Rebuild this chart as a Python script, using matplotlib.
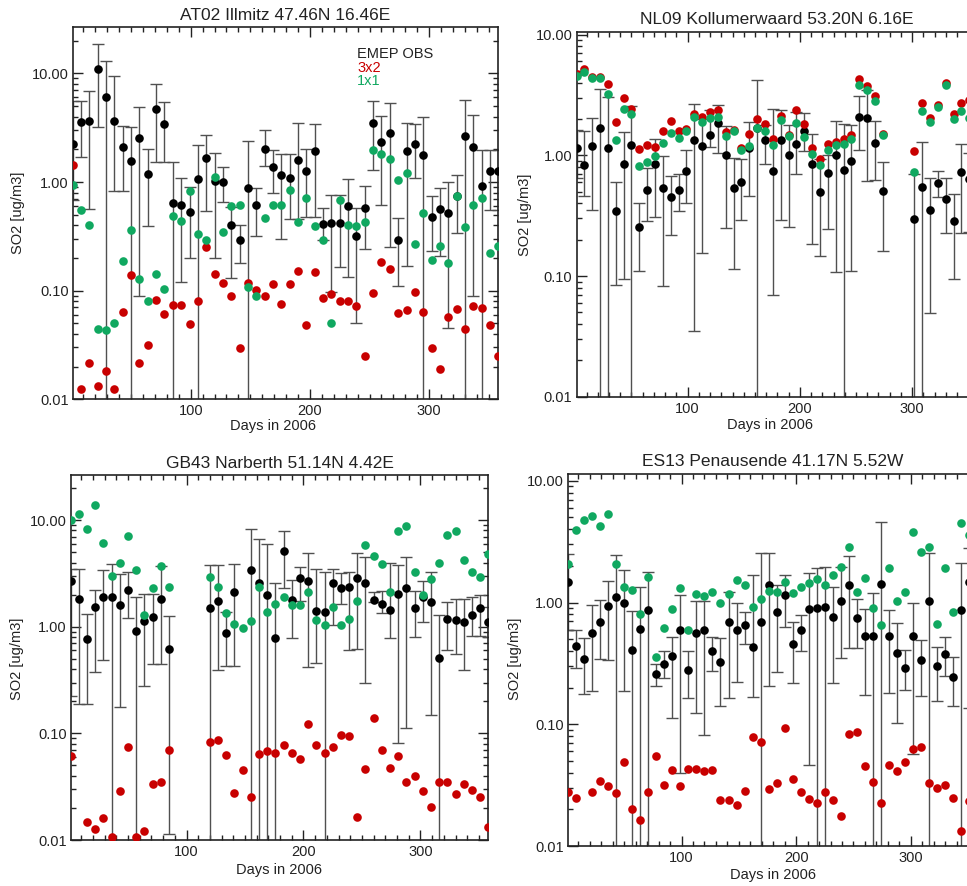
import numpy as np
import matplotlib
matplotlib.use("Agg")
import matplotlib.pyplot as plt
from matplotlib.ticker import MultipleLocator, LogLocator, FormatStrFormatter, NullFormatter

plt.rcParams['font.family'] = ['Liberation Sans', 'DejaVu Sans']

# weekly samples through 2006
days = np.arange(52) * 7 + 1

# AT02 Illmitz
at_obs = [2.22, 3.57, 3.65, 10.9, 6.1, 3.67, 2.09, 1.57, 2.54, 1.19, 4.74, 3.44, 0.64, 0.62, 0.53, 1.06, 1.68, 1.03,
          1.01, 0.40, 0.29, 0.88, 0.61, 2.01, 1.37, 1.15, 1.09, 1.58, 1.26, 1.92, 0.41, 0.42, 0.42, 0.60, 0.32, 0.58,
          3.49, 2.32, 2.83, 0.29, 1.93, 2.24, 1.79, 0.48, 0.56, 0.52, 0.74, 2.64, 2.10, 0.92, 1.26, 1.26]
at_hi = [5.6, 5.6, 6.9, 18.8, 12.9, 9.4, 3.25, 3.2, 4.9, 2.0, 8.0, 5.45, 1.53, 1.09, 0.9, 2.2, 2.7, 1.86, 1.37, 0.59,
         0.40, 2.4, 0.88, 3.0, 1.96, 1.8, 1.8, 3.5, 2.0, 3.4, 0.58, 0.76, 0.76, 1.06, 0.58, 0.92, 5.6, 4.05, 5.3, 0.47,
         3.5, 3.45, 3.97, 0.75, 0.88, 1.0, 1.15, 5.7, 4.1, 1.96, 1.96, 1.96]
at_lo = [0.68, 1.7, 0.56, 3.2, None, 0.83, 0.83, None, 0.09, 0.39, 1.54, 1.54, None, 0.12, 0.2, None, 0.54, 0.2, 0.66,
         0.13, 0.18, None, 0.32, 1.4, 0.8, 0.3, 0.46, 0.46, 0.48, 0.48, 0.29, 0.097, 0.165, 0.135, 0.05, 0.24, 1.28,
         0.61, 0.25, 0.11, 0.17, 1.1, None, 0.23, 0.21, 0.045, 0.34, None, 0.09, None, 0.556, 0.556]
at_3x2 = [1.44, 0.0125, 0.0215, 0.0132, 0.0184, 0.0125, 0.0635, 0.138, 0.0216, 0.0313, 0.0824, 0.0613, 0.074, 0.074,
          0.0489, 0.081, 0.252, 0.143, 0.117, 0.09, 0.0296, 0.117, 0.102, 0.09, 0.115, 0.076, 0.114, 0.153, 0.0487,
          0.148, 0.086, 0.094, 0.081, 0.081, 0.0716, 0.0253, 0.0956, 0.183, 0.157, 0.0625, 0.0667, 0.0962, 0.0635,
          0.0297, 0.019, 0.057, 0.068, 0.0446, 0.073, 0.069, 0.0487, 0.0253]
at_1x1 = [0.945, 0.548, 0.399, 0.044, 0.0433, 0.0502, 0.186, 0.364, 0.129, 0.081, 0.141, 0.103, 0.483, 0.437, 0.826,
          0.33, 0.29, 1.11, 0.346, 0.60, 0.61, 0.108, 0.09, 0.47, 0.61, 0.62, 0.85, 0.43, 0.71, 0.39, 0.29, 0.050,
          0.69, 0.40, 0.39, 0.43, 1.96, 1.82, 1.64, 1.04, 1.21, 0.267, 0.52, 0.19, 0.257, 0.181, 0.75, 0.385, 0.61,
          0.71, 0.223, 0.26]

# NL09 Kollumerwaard
nl_obs = [1.16, 0.83, 1.19, 1.69, 1.14, 0.345, 0.84, 1.21, 0.256, 0.52, 0.85, 0.54, 0.45, 0.52, 0.74, 1.33, 1.19, 1.48,
          1.85, 1.0, 0.54, 0.60, 1.16, 1.69, 1.33, 0.74, 1.35, 1.0, 1.23, 1.58, 0.84, 0.50, 0.71, 1.01, 0.76, 0.89,
          2.09, 2.04, 1.27, 0.51, None, None, None, 0.294, 0.55, 0.354, 0.59, 0.434, 0.287, 0.73, 0.64, None]
nl_hi = [1.63, 1.6, 2.04, 3.57, 3.05, 0.6, 1.56, 2.55, 0.40, 0.78, 1.37, 0.99, 0.68, 0.70, 1.1, 2.65, 2.0, 2.39, 2.6,
         1.74, 0.95, 0.94, 1.87, 4.24, 1.77, 2.4, 2.39, 1.77, 2.3, 2.24, 1.51, 0.94, 1.0, 1.91, 1.81, 1.77, 3.09, 3.5,
         1.91, 0.88, None, None, None, 0.70, 1.29, 0.65, 0.74, 0.65, 0.48, 1.23, 1.05, None]
nl_lo = [0.65, 0.46, 0.354, None, None, 0.085, 0.095, None, 0.11, 0.285, 0.31, 0.082, 0.22, 0.345, 0.40, 0.035, 0.155,
         1.17, 1.05, 0.25, 0.115, 0.29, 0.46, None, 0.85, 0.069, 0.29, 0.254, 0.7, 1.08, 0.183, 0.146, 0.246, 0.108,
         None, 0.11, 1.11, 0.61, 0.62, 0.16, None, None, None, None, None, 0.049, 0.45, 0.227, 0.095, 0.227, 0.23, None]
nl_3x2 = [4.7, 5.2, 4.47, 4.44, 3.88, 1.87, 2.99, 2.44, 1.12, 1.21, 1.17, 1.58, 1.93, 1.58, 1.64, 2.22, 2.08, 2.29, 2.36,
          1.56, 1.61, 1.15, 1.49, 1.99, 1.8, 1.37, 2.12, 1.48, 2.36, 1.81, 1.15, 0.94, 1.23, 1.29, 1.36, 1.48, 4.27,
          3.74, 3.09, 1.5, None, None, None, 1.09, 2.73, 2.05, 2.63, 3.98, 2.22, 2.72, 2.86, None]
nl_1x1 = [4.5, 4.9, 4.33, 4.39, 3.2, 1.33, 2.44, 2.2, 0.81, 0.88, 0.99, 1.27, 1.53, 1.39, 1.59, 2.08, 1.87, 2.04, 2.08,
          1.45, 1.59, 1.1, 1.19, 1.69, 1.59, 1.21, 1.95, 1.44, 1.85, 1.43, 1.03, 0.83, 1.1, 1.21, 1.23, 1.36, 3.86, 3.5,
          2.8, 1.48, None, None, None, 0.73, 2.33, 1.87, 2.49, 3.8, 1.98, 2.33, 2.05, None]

# GB43 Narberth
gb_obs = [2.7, 1.84, 0.76, 1.52, 1.92, 1.90, 1.61, 2.21, 0.91, 1.13, 1.23, 1.84, 0.62, None, None, None, None, 1.51,
          1.73, 0.87, 2.13, None, 3.4, 2.55, 1.98, 0.79, 5.16, 1.78, 2.86, 2.7, 1.41, 1.38, 2.57, 2.32, 2.37, 2.86, 2.6,
          1.8, 1.65, 1.43, 2.02, 2.3, 1.49, 1.92, 1.71, 0.51, 1.17, 1.15, 1.11, 1.30, 1.49, 1.12]
gb_hi = [3.5, 3.5, 1.33, 2.2, 3.4, 3.87, 3.1, 3.23, 1.91, 2.05, 2.05, 3.73, 1.27, None, None, None, None, 3.76, 3.8,
         1.39, 3.87, None, 8.2, 6.6, 5.96, 2.6, 7.9, 2.74, 3.6, 4.94, 3.47, 3.28, 3.47, 3.16, 3.28, 4.97, 4.53, 2.1,
         2.17, 3.92, 3.8, 4.53, 2.17, 2.7, 3.28, 1.3, 1.69, 1.84, 1.82, 1.91, 1.98, 1.52]
gb_lo = [0.225, 0.19, 0.19, 0.38, 0.49, None, 0.175, 1.2, None, 0.276, 0.45, 0.45, 0.0115, None, None, None, None, None,
         0.39, 0.43, 0.43, None, None, None, None, None, 2.29, 0.78, 1.75, 0.42, 0.46, None, 1.04, 1.63, 0.6, 0.62,
         0.3, 1.69, 1.36, 0.78, 0.081, 0.112, 0.81, 1.11, 0.149, None, 0.6, 0.555, 0.39, 0.82, 0.82, 0.8]
gb_3x2 = [0.061, None, 0.0146, 0.0127, 0.0161, 0.0106, 0.0286, 0.074, 0.0107, 0.0122, 0.0335, 0.0347, 0.0703, None, None,
          None, None, 0.0824, 0.0873, 0.063, 0.0276, 0.0453, 0.0255, 0.0636, 0.0678, 0.066, 0.078, 0.066, 0.0575,
          0.122, 0.077, 0.066, 0.075, 0.097, 0.095, 0.0166, 0.0463, 0.138, 0.0703, 0.0469, 0.062, 0.0347, 0.04, 0.029,
          0.0202, 0.0347, 0.0347, 0.027, 0.0335, 0.0296, 0.0255, 0.0133]
gb_1x1 = [10.0, 11.4, 8.2, 13.9, 6.04, 3.0, 3.93, 7.13, 3.42, 1.29, 2.3, 3.68, 2.34, None, None, None, None, 2.94, 2.34,
          1.34, 1.06, 0.97, 1.14, 2.34, 1.38, 1.63, 1.92, 1.61, 1.61, 2.14, 1.15, 1.04, 1.52, 1.04, 1.18, 1.75, 5.87,
          4.63, 3.87, 2.1, 7.83, 8.72, 3.28, 1.98, 2.8, 3.95, 7.23, 7.83, 4.25, 3.28, 2.94, 4.8]

# ES13 Penausende
es_obs = [1.48, 0.44, 0.342, 0.563, 0.694, 0.933, 1.11, 1.0, 0.411, 0.611, 0.876, 0.257, 0.315, 0.362, 0.593, 0.281,
          0.563, 0.593, 0.398, 0.325, 0.694, 0.593, 0.651, 0.432, 0.698, 1.38, 0.833, 1.16, 0.455, 0.589, 0.88, 0.9,
          0.91, 0.767, 1.03, 1.4, 0.743, 0.535, 0.526, 1.42, 0.526, 0.383, 0.292, 0.526, 0.334, 1.02, 0.302, 0.379,
          0.246, 0.87, 1.47, None]
es_hi = [2.5, 0.59, 0.51, 0.957, 1.04, 1.51, 2.47, 1.86, 0.854, 1.35, 1.78, 0.311, 0.396, 0.525, 1.16, 0.396, 1.02,
         1.03, 0.519, 0.51, 1.22, 0.987, 0.843, 1.67, 2.54, 2.54, 1.38, 1.69, 0.698, 0.792, 1.74, 1.92, 1.94, 1.34,
         1.95, 2.39, 1.07, 0.887, 1.19, 4.57, 0.87, 0.676, 0.408, 1.0, 0.493, 2.54, 0.435, 0.516, 0.355, 2.1, 2.8, None]
es_lo = [0.6, 0.29, 0.176, 0.188, 0.342, 0.334, None, 0.188, None, None, None, 0.208, 0.239, 0.112, 0.0396, 0.163,
         0.123, 0.082, 0.275, 0.142, 0.163, 0.224, 0.455, 0.166, None, 0.208, 0.271, 0.635, 0.217, 0.4, 0.0464, None,
         None, 0.217, 0.349, 0.421, 0.427, 0.174, None, None, 0.18, 0.102, 0.191, 0.057, 0.172, None, 0.156, 0.25,
         0.14, None, 0.135, None]
es_3x2 = [0.028, 0.0246, None, 0.028, 0.0345, 0.031, 0.0274, 0.049, 0.0201, 0.0162, 0.028, 0.055, 0.032, 0.042, 0.031,
          0.043, 0.043, 0.041, 0.042, 0.0237, 0.0237, 0.0217, 0.0285, 0.079, 0.072, 0.0296, 0.0331, 0.093, 0.0354,
          0.028, 0.0244, 0.0225, 0.0277, 0.024, 0.0178, 0.0833, 0.0858, 0.0455, 0.0335, 0.0227, 0.0463, 0.0413, 0.049,
          0.063, 0.0645, 0.0332, 0.0301, 0.0316, 0.025, 0.0134, 0.0234, None]
es_1x1 = [2.08, 3.95, 4.72, 5.09, 4.22, 5.35, 2.08, 1.35, 1.27, 0.807, 1.62, 0.36, 0.615, 0.88, 1.31, 0.596, 1.18, 1.13,
          1.21, 1.0, 1.18, 1.52, 1.38, 0.927, 1.06, 1.25, 1.22, 1.46, 1.19, 1.34, 1.44, 1.57, 1.38, 1.67, 1.95, 2.88,
          1.23, 1.6, 0.9, 0.655, 1.92, 1.03, 1.21, 3.83, 2.59, 2.85, 0.664, 1.92, 0.833, 4.54, 3.6, None]

RED = '#c80000'
GREEN = '#10a860'
INK = '#222222'

W, H = 967, 886
fig = plt.figure(figsize=(W / 100, H / 100), dpi=100)


def px_rect(left, top, right, bottom):
    return [left / W, 1 - bottom / H, (right - left) / W, (bottom - top) / H]


def panel(rect, ytop, obs, hi, lo, m3x2, m1x1, title, title_xy, ylab_xy, xlab_xy):
    ax = fig.add_axes(px_rect(*rect))
    obs = np.array(obs, dtype=float)
    hi = np.array(hi, dtype=float)
    lo = np.array(lo, dtype=float)
    # lower bars that run off the bottom of the log axis
    lo = np.where(np.isnan(lo) & ~np.isnan(obs), 1e-4, lo)
    ok = ~np.isnan(obs)
    ax.errorbar(days[ok], obs[ok], yerr=[obs[ok] - lo[ok], hi[ok] - obs[ok]], fmt='none',
                ecolor='#505050', elinewidth=1.0, capsize=4.2, capthick=1.0, zorder=2)
    ax.plot(days, obs, 'o', color='black', ms=6.2, mec='none', zorder=3)
    ax.plot(days, np.array(m3x2, dtype=float), 'o', color=RED, ms=6.2, mec='none', zorder=4)
    ax.plot(days, np.array(m1x1, dtype=float), 'o', color=GREEN, ms=6.2, mec='none', zorder=5)

    ax.set_yscale('log')
    ax.set_xlim(1, 358)
    ax.set_ylim(0.01, ytop)
    ax.xaxis.set_major_locator(MultipleLocator(100))
    ax.xaxis.set_minor_locator(MultipleLocator(10))
    ax.yaxis.set_major_locator(LogLocator(base=10))
    ax.yaxis.set_minor_locator(LogLocator(base=10, subs=np.arange(2, 10)))
    ax.yaxis.set_major_formatter(FormatStrFormatter('%.2f'))
    ax.yaxis.set_minor_formatter(NullFormatter())
    ax.tick_params(which='both', direction='in', top=True, right=True, width=1.0, colors=INK,
                   labelsize=10.5, labelcolor=INK)
    ax.tick_params(which='major', length=7)
    ax.tick_params(which='minor', length=3.5)
    ax.tick_params(axis='y', pad=3)
    ax.tick_params(axis='x', pad=3.5)
    for s in ax.spines.values():
        s.set_linewidth(1.2)
        s.set_color(INK)

    fig.text(title_xy[0] / W, 1 - title_xy[1] / H, title, ha='center', va='center', fontsize=12.5, color=INK)
    fig.text(ylab_xy[0] / W, 1 - ylab_xy[1] / H, 'SO2 [ug/m3]', ha='center', va='center', rotation=90,
             fontsize=10.5, color=INK)
    fig.text(xlab_xy[0] / W, 1 - xlab_xy[1] / H, 'Days in 2006', ha='center', va='center',
             fontsize=10.5, color=INK)
    return ax


ax1 = panel((72.7, 26.7, 498.3, 399.3), 26.9, at_obs, at_hi, at_lo, at_3x2, at_1x1,
            'AT02 Illmitz 47.46N 16.46E', (285.5, 15), (18, 213), (273, 426))
ax2 = panel((576.5, 32.3, 977.2, 396.7), 10.45, nl_obs, nl_hi, nl_lo, nl_3x2, nl_1x1,
            'NL09 Kollumerwaard 53.20N 6.16E', (776.5, 20), (525, 215), (770, 425))
ax3 = panel((70.7, 475, 488.3, 840), 26.5, gb_obs, gb_hi, gb_lo, gb_3x2, gb_1x1,
            'GB43 Narberth 51.14N 4.42E', (279.5, 463), (17, 659), (279, 870))
ax4 = panel((568, 474.3, 977.3, 846), 11.3, es_obs, es_hi, es_lo, es_3x2, es_1x1,
            'ES13 Penausende 41.17N 5.52W', (772.7, 462), (515, 659), (772.7, 875))

# series key inside the first panel
for label, col, yy in [('EMEP OBS', INK, 0.927), ('3x2', RED, 0.889), ('1x1', GREEN, 0.853)]:
    ax1.text(0.668, yy, label, color=col, fontsize=10.5, transform=ax1.transAxes, ha='left', va='center')

fig.savefig('out.png', dpi=100)
